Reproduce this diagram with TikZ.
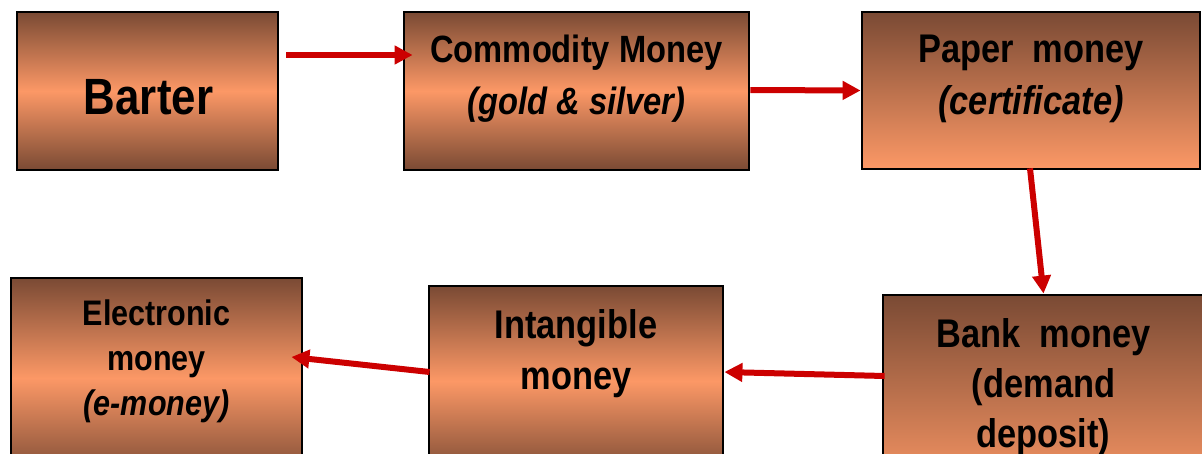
\documentclass[tikz,border=0pt]{standalone}
\usepackage{fontspec}
\newfontfamily\boxfont{Liberation Sans}[FakeStretch=0.86]
\usepackage{tikz}
\usetikzlibrary{arrows.meta}
\definecolor{copperdark}{RGB}{122,74,52}
\definecolor{copperlight}{RGB}{252,152,102}
\definecolor{arrowred}{RGB}{204,0,0}
\tikzset{
  stagebox/.style={rectangle,draw=black,line width=2.8pt,inner sep=0pt,
    top color=copperdark,bottom color=copperdark,middle color=copperlight},
  fadebox/.style={rectangle,draw=black,line width=2.8pt,inner sep=0pt,
    top color=copperdark,bottom color=copperlight},
  stagetext/.style={align=center,inner sep=0pt},
  flow/.style={->,draw=arrowred,line width=6pt}
}
\begin{document}
\begin{tikzpicture}[line join=miter,>={Triangle[length=18pt,width=18pt]},x=1pt,y=-1pt]
\useasboundingbox (0,0) rectangle (1202,453);
\clip (0,0) rectangle (1202,453);
% top row
\node[stagebox,minimum width=261pt,minimum height=158pt] (barter) at (147.5,91) {};
\node[stagebox,minimum width=345pt,minimum height=158pt] (commodity) at (576.5,91) {};
\node[fadebox,minimum width=338pt,minimum height=157pt] (paper) at (1031,90.5) {};
% bottom row
\node[fadebox,minimum width=321pt,minimum height=200pt] (bank) at (1043.5,395) {};
\node[stagebox,minimum width=294pt,minimum height=190pt] (intangible) at (576,381) {};
\node[stagebox,minimum width=291pt,minimum height=200pt] (electronic) at (156.5,378) {};
% texts
\node[stagetext,font=\boxfont\bfseries\fontsize{51}{60}\selectfont] at (148.5,97) {Barter};
\node[stagetext,font=\boxfont\bfseries\fontsize{38}{52}\selectfont] at (576.5,79)
  {Commodity Money\\\textit{(gold \& silver)}};
\node[stagetext,font=\boxfont\bfseries\fontsize{40}{52}\selectfont] at (1031,79)
  {Paper\ \ money\\\textit{(certificate)}};
\node[stagetext,font=\boxfont\bfseries\fontsize{40}{50}\selectfont] at (1043.5,387.5)
  {Bank\ \ money\\(demand\\deposit)};
\node[stagetext,font=\boxfont\bfseries\fontsize{40}{51}\selectfont] at (576,354)
  {Intangible\\money};
\node[stagetext,font=\boxfont\bfseries\fontsize{35.5}{45}\selectfont] at (156.5,361)
  {Electronic\\money\\\textit{(e-money)}};
% arrows
\draw[flow] ([xshift=7pt,yshift=36pt]barter.east) -- ([xshift=10pt,yshift=36pt]commodity.west);
\draw[flow] ([yshift=1pt]commodity.east) -- (paper.west);
\draw[flow] ([xshift=-1pt,yshift=2pt]paper.south) -- (bank.north);
\draw[flow] ([xshift=3pt,yshift=19pt]bank.west) -- ([yshift=9pt]intangible.east);
\draw[flow] ([xshift=2pt,yshift=9pt]intangible.west) -- ([xshift=-12pt,yshift=21pt]electronic.east);
\end{tikzpicture}
\end{document}
